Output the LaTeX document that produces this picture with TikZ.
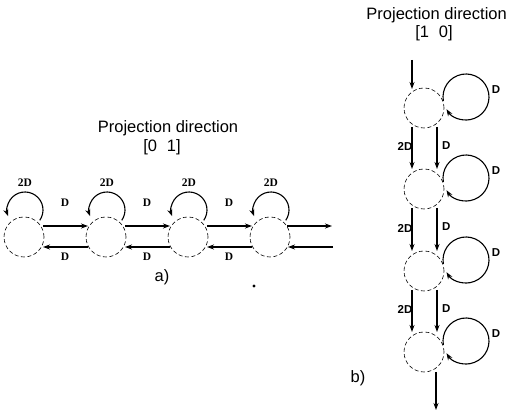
\documentclass[tikz,border=0pt]{standalone}
\usepackage{fontspec}
\setmainfont{Liberation Sans}
\newfontfamily\serifb{Liberation Serif}
\usetikzlibrary{calc,arrows.meta}
\begin{document}
\begin{tikzpicture}[x=1pt,y=1pt,
  site/.style={circle,draw,dash pattern=on 4pt off 2.5pt,line width=0.6pt,minimum size=40pt,inner sep=0pt},
  conn/.style={line width=1.1pt,-{Stealth[length=7pt,width=5pt]}},
  lbla/.style={font=\serifb\bfseries\fontsize{11.5}{12}\selectfont,inner sep=0pt},
  lblb/.style={font=\bfseries\fontsize{11.5}{12}\selectfont,inner sep=0pt},
  ttl/.style={font=\fontsize{16.5}{19}\selectfont,inner sep=0pt}]
\useasboundingbox (0,0) rectangle (508,414);
% ---------- panel a ----------
\node[site] (a1) at (24,177) {};
\node[site] (a2) at (106,177) {};
\node[site] (a3) at (188,177) {};
\node[site] (a4) at (270,177) {};
\foreach \i in {1,2,3,4}{
  \coordinate (la\i) at ($(a\i)+(1,27)$);
  \draw[conn] ($(la\i)+(-35:18)$) arc[start angle=-35,end angle=200,radius=18];
  \node[lbla] (ta\i) at ($(la\i)+(0,27)$) {2D};
}
\foreach \i/\j in {1/2,2/3,3/4}{
  \draw[conn] ($(a\i)+(19,11)$) -- ($(a\j)+(-18,11)$);
  \draw[conn] ($(a\j)+(-18,-10)$) -- ($(a\i)+(19,-10)$);
  \node[lbla] (da\i) at ($(a\i)!0.5!(a\j)+(0,34)$) {D};
  \node[lbla] (db\i) at ($(a\i)!0.5!(a\j)+(0,-20)$) {D};
}
\coordinate (aR1) at (332,188);
\coordinate (aR2) at (333,167);
\draw[conn] ($(a4)+(17,11)$) -- (aR1);
\draw[conn] (aR2) -- ($(a4)+(18,-10)$);
\node[ttl] (tta) at (168,286) {Projection direction};
\node[ttl] (ttb) at (162,267) {[0\hspace{0.6em}1]};
\node[ttl] (laba) at (162,137) {a)};
\fill (254,128) circle (1.6);
% ---------- panel b ----------
\node[site] (b1) at (424,306) {};
\node[site] (b2) at (424,225) {};
\node[site] (b3) at (424,143) {};
\node[site] (b4) at (424,62) {};
\foreach \i in {1,2,3,4}{
  \coordinate (lb\i) at ($(b\i)+(42,11)$);
  \draw[conn] ($(lb\i)+(190:23)$) arc[start angle=190,end angle=-148,radius=23];
  \node[lblb] (dl\i) at ($(b\i)+(72,18)$) {D};
}
\foreach \i/\j in {1/2,2/3,3/4}{
  \draw[conn] ($(b\i)+(-12,-19)$) -- ($(b\j)+(-12,20)$);
  \draw[conn] ($(b\i)+(13,-19)$) -- ($(b\j)+(13,20)$);
  \node[lblb,anchor=east] (tb\i) at ($(b\i)!0.5!(b\j)+(-11.5,2)$) {2D};
  \node[lblb,anchor=west] (dv\i) at ($(b\i)!0.5!(b\j)+(18,3)$) {D};
}
\coordinate (bin) at (412,354);
\draw[conn] (bin) -- ($(b1)+(-12,19)$);
\coordinate (bout) at (436,4);
\draw[conn] ($(b4)+(12,-20)$) -- (bout);
\node[ttl,anchor=east] (ttc) at (507,399) {Projection direction};
\node[ttl] (ttd) at (434,381) {[1\hspace{0.6em}0]};
\node[ttl] (labb) at (358,36) {b)};
\end{tikzpicture}
\end{document}
